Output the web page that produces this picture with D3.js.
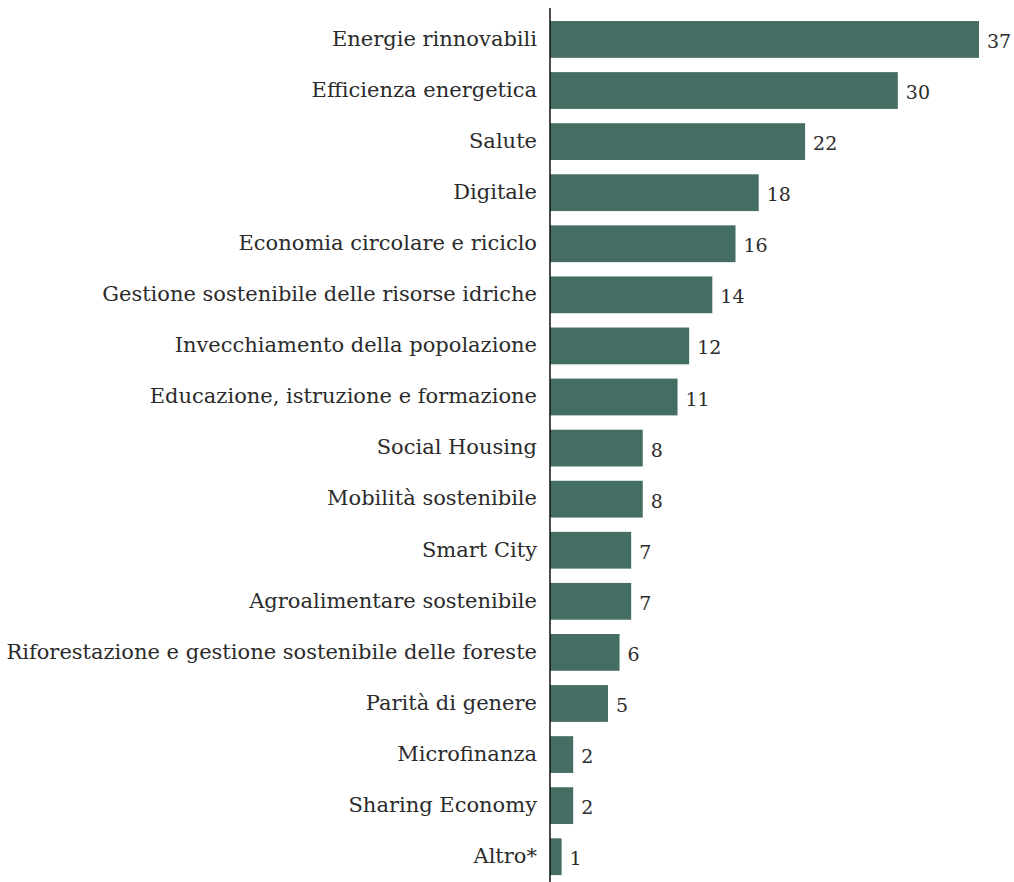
<!DOCTYPE html>
<html>
<head>
<meta charset="utf-8">
<script src="https://cdn.jsdelivr.net/npm/d3@7"></script>
<style>
  html, body { margin: 0; padding: 0; background: #ffffff; }
  svg { display: block; }
  text { font-family: "DejaVu Serif", serif; fill: #2b2b2b; }
</style>
</head>
<body>
<script>
// Categories (top to bottom) and their counts
const categories = [
  "Energie rinnovabili",
  "Efficienza energetica",
  "Salute",
  "Digitale",
  "Economia circolare e riciclo",
  "Gestione sostenibile delle risorse idriche",
  "Invecchiamento della popolazione",
  "Educazione, istruzione e formazione",
  "Social Housing",
  "Mobilità sostenibile",
  "Smart City",
  "Agroalimentare sostenibile",
  "Riforestazione e gestione sostenibile delle foreste",
  "Parità di genere",
  "Microfinanza",
  "Sharing Economy",
  "Altro*"
];
const values = [37, 30, 22, 18, 16, 14, 12, 11, 8, 8, 7, 7, 6, 5, 2, 2, 1];

const W = 1014, H = 882;
const axisX = 550;
const barColor = "#446e63";

const svg = d3.select("body").append("svg")
  .attr("width", W).attr("height", H);

const data = categories.map((c, i) => ({ cat: c, val: values[i] }));

const x = d3.scaleLinear()
  .domain([0, 37])
  .range([axisX, 979]);

const y = d3.scaleBand()
  .domain(categories)
  .range([13.9, 13.9 + 17 * 51.08])
  .paddingInner(0.28)
  .paddingOuter(0.14);

// bars
svg.append("g").selectAll("rect")
  .data(data)
  .join("rect")
  .attr("x", x(0))
  .attr("y", d => y(d.cat))
  .attr("width", d => x(d.val) - x(0))
  .attr("height", y.bandwidth())
  .attr("fill", barColor);

// category labels via a left axis without ticks or domain
const yAxis = d3.axisLeft(y).tickSize(0).tickPadding(13);
const gy = svg.append("g")
  .attr("transform", `translate(${axisX},0)`)
  .call(yAxis);
gy.select(".domain").remove();
gy.selectAll("text")
  .attr("font-family", "DejaVu Serif, serif")
  .attr("font-size", 21)
  .attr("fill", "#2b2b2b")
  .attr("dy", "0.3em");

// value labels
svg.append("g").selectAll("text")
  .data(data)
  .join("text")
  .attr("x", d => x(d.val) + 8)
  .attr("y", d => y(d.cat) + y.bandwidth() / 2 + 8.5)
  .attr("font-size", 19)
  .text(d => d.val);

// vertical baseline
svg.append("line")
  .attr("x1", axisX).attr("x2", axisX)
  .attr("y1", 8).attr("y2", H)
  .attr("stroke", "#111")
  .attr("stroke-width", 1.5);
</script>
</body>
</html>
